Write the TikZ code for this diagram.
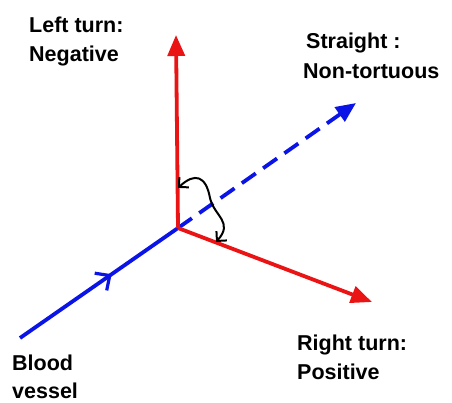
\documentclass[tikz,border=0pt]{standalone}
\usepackage{fontspec}
\setmainfont{Liberation Sans}
\usetikzlibrary{arrows.meta,decorations.markings}
\definecolor{vred}{RGB}{235,20,20}
\definecolor{vblue}{RGB}{10,20,230}
\begin{document}
\begin{tikzpicture}[x=1pt,y=-1pt,
  lbl/.style={anchor=base west,inner sep=0pt,font=\fontsize{21.5}{30}\selectfont\bfseries},
  redarrow/.style={draw=vred,line width=3.8pt,-{Triangle[length=21pt,width=17pt]}},
  bluearrow/.style={draw=vblue,line width=3.8pt},
  bluedash/.style={draw=vblue,line width=3.8pt,dash pattern=on 17pt off 9pt,-{Triangle[length=20pt,width=17pt]}},
  angarrow/.style={draw=black,line width=2pt,{Straight Barb[length=7pt,width=14pt]}-{Straight Barb[length=7pt,width=14pt]}}
]
\useasboundingbox (0,0) rectangle (452,402);
\fill[white] (0,0) rectangle (452,402);
\coordinate (O) at (178,228);
\coordinate (S) at (20,338);
\coordinate (U) at (176,35);
\coordinate (D) at (356,103);
\coordinate (R) at (372,302);
\coordinate (A1) at (178,188);
\coordinate (A2) at (216,242);

\draw[bluearrow,postaction={decorate},
  decoration={markings,mark=at position 0.58 with {\arrow{Straight Barb[length=11pt,width=21pt,line width=3.2pt]}}}] (S) -- (O);
\draw[bluedash] (O) -- (D);
\draw[redarrow] (O) -- (U);
\draw[redarrow] (O) -- (R);
\draw[angarrow] (A1) .. controls (195,172) and (206,176) .. (210,198) .. controls (214,216) and (234,222) .. (A2);

\node[lbl] (l1) at (29,32) {Left turn:};
\node[lbl] (l2) at (29,61) {Negative};
\node[lbl] (s1) at (306,48) {Straight :};
\node[lbl] (s2) at (303,78) {Non-tortuous};
\node[lbl] (r1) at (297,350) {Right turn:};
\node[lbl] (r2) at (297,379) {Positive};
\node[lbl] (b1) at (12,370) {Blood};
\node[lbl] (b2) at (12,398) {vessel};
\end{tikzpicture}
\end{document}
